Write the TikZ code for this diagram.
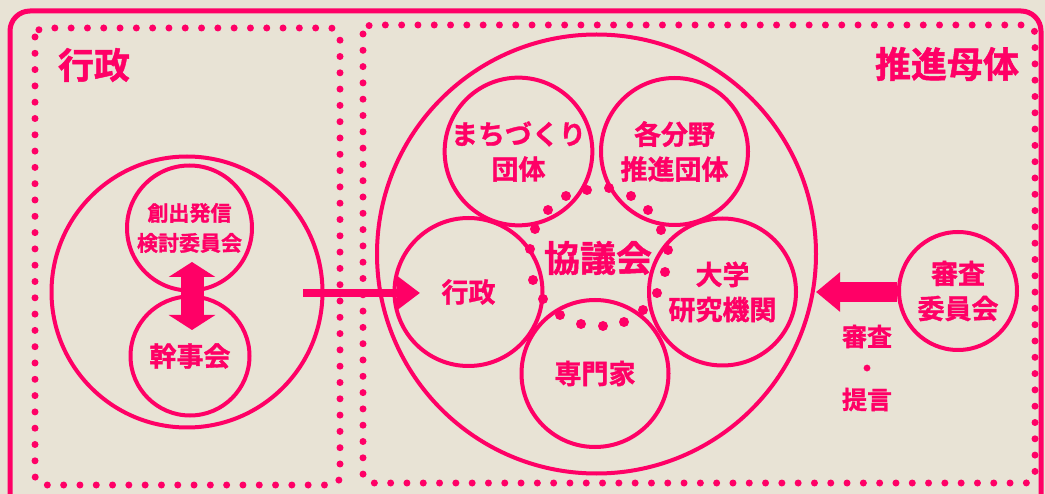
\documentclass[tikz,border=0pt]{standalone}
\usepackage{fontspec}
\setmainfont{Noto Sans CJK JP}[BoldFont={* Bold}, BoldFeatures={FakeBold=1.2}]
\usetikzlibrary{arrows.meta}
\definecolor{pk}{HTML}{FF0066}
\definecolor{paper}{HTML}{E8E3D5}
\newcommand{\fsz}[2]{\fontsize{#1pt}{#2pt}\selectfont}
\tikzset{
  ring/.style={circle, draw=pk, line width=4pt, inner sep=0pt, text=pk, align=center, font=\bfseries\fsz{27}{35}},
  dotline/.style={draw=pk, line width=7pt, line cap=round, dash pattern=on 0pt off 16.3pt, rounded corners=9pt},
  heading/.style={text=pk, font=\bfseries\fsz{36}{40}, inner sep=0pt},
  lbl/.style={text=pk, align=center, inner sep=0pt},
  dotmark/.style={fill=pk},
}
\begin{document}
\begin{tikzpicture}[x=1pt,y=-1pt]
\fill[paper] (0,0) rectangle (1045,494);
\useasboundingbox (0,0) rectangle (1045,494);
\clip (0,0) rectangle (1045,494);
% outer frame
\draw[pk, line width=5pt, rounded corners=20pt] (10,11) rectangle (1041,515);
% dotted regions
\draw[dotline] (35,28) rectangle (340,485);
\draw[dotline] (363,25) rectangle (1035,483);
% headings
\node[heading] (lgov) at (94,65) {行政};
\node[heading] (lprom) at (947,64) {推進母体};
% left group
\node[ring, minimum size=271pt] (gov) at (187,292) {};
\node[ring, minimum size=125pt, font=\bfseries\fsz{21}{30}] (soshutsu) at (189.5,228) {創出発信\\検討委員会};
\node[ring, minimum size=119pt] (kanji) at (190,356) {幹事会};
\coordinate (da1) at (192,262);
\coordinate (da2) at (192,330);
\draw[pk, line width=23pt, {Triangle[length=15pt,width=46pt]}-{Triangle[length=15pt,width=46pt]}] (da1) -- (da2);
% council
\node[ring, minimum size=439pt] (kyogi) at (596.5,254) {};
\node[ring, minimum size=147pt] (machi) at (518.5,151.5) {まちづくり\\団体};
\node[ring, minimum size=147pt] (kakubun) at (674.5,151.5) {各分野\\推進団体};
\node[ring, minimum size=148pt] (gyosei) at (468.5,292) {行政};
\node[ring, minimum size=147pt] (daigaku) at (722.5,292) {大学\\研究機関};
\node[ring, minimum size=147pt] (senmon) at (595,373.5) {専門家};
\node[lbl, font=\bfseries\fsz{36}{40}] (kyogikai) at (598,258) {協議会};
\foreach \p in {(587,190),(566,196),(548,210),(535,229),(530,249),(533,280),(543,299),(560,315),(581,324),(603,326),(624,322),(643,310),(657,293),(665,272),(668,250),(661,230),(648,210),(631,196),(609,188)}
  \fill[dotmark] \p circle (5pt);
% arrow into council
\coordinate (a1s) at (303,293);
\coordinate (a1e) at (420,293);
\draw[pk, line width=8pt, -{Triangle[length=23pt,width=33pt]}] (a1s) -- (a1e);
% review committee
\node[ring, minimum size=118pt] (shinsa) at (958,291) {審査\\委員会};
\coordinate (a2e) at (816,292);
\draw[pk, line width=20pt, -{Triangle[length=24pt,width=38pt]}] (shinsa.west |- a2e) -- (a2e);
\node[lbl, font=\bfseries\fsz{25}{31.5}] (teigen) at (867,368) {審査\\・\\提言};
\end{tikzpicture}
\end{document}
